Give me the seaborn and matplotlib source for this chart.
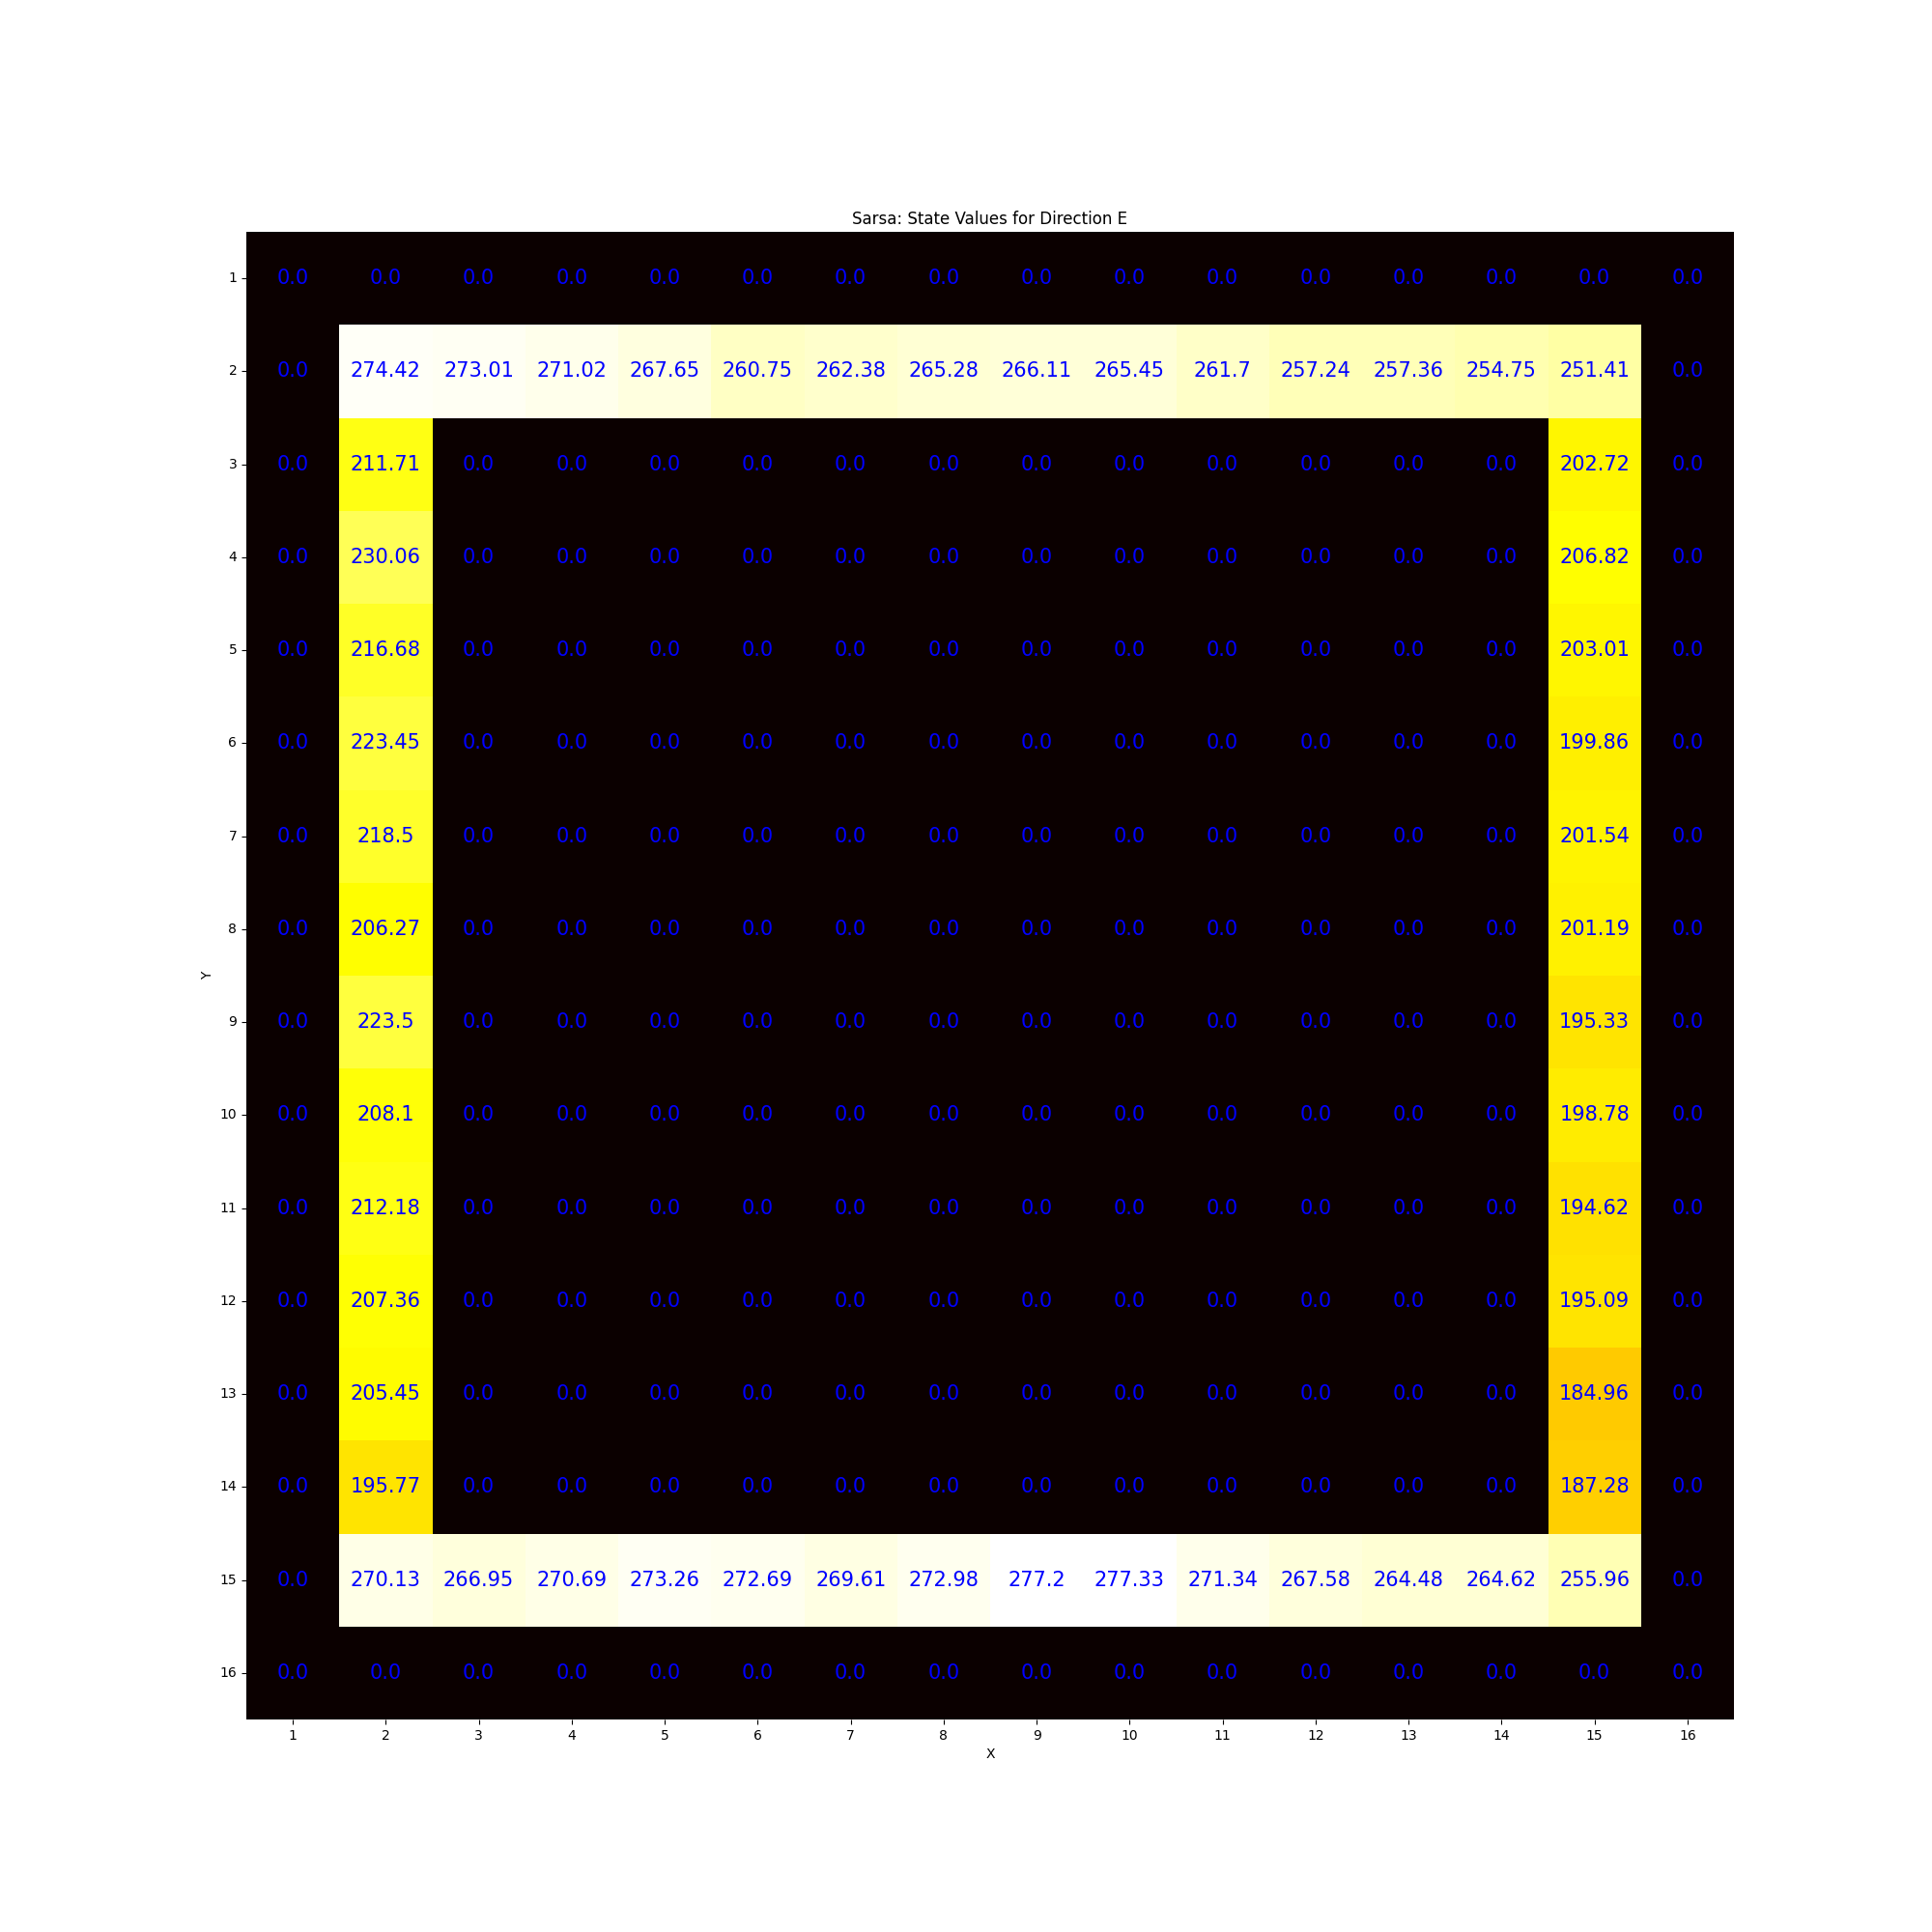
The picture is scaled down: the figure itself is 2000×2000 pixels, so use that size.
import numpy as np
import pandas as pd
import matplotlib
matplotlib.use("Agg")
import matplotlib.pyplot as plt
import seaborn as sns

x_labels = list(range(1, 17))
y_labels = list(range(1, 17))

# Row y=2, columns x=2..15
row2 = [274.42, 273.01, 271.02, 267.65, 260.75, 262.38, 265.28, 266.11, 265.45,
        261.7, 257.24, 257.36, 254.75, 251.41]
# Row y=15, columns x=2..15
row15 = [270.13, 266.95, 270.69, 273.26, 272.69, 269.61, 272.98, 277.2, 277.33,
         271.34, 267.58, 264.48, 264.62, 255.96]
# Column x=2, rows y=3..14
col2 = [211.71, 230.06, 216.68, 223.45, 218.5, 206.27, 223.5, 208.1, 212.18,
        207.36, 205.45, 195.77]
# Column x=15, rows y=3..14
col15 = [202.72, 206.82, 203.01, 199.86, 201.54, 201.19, 195.33, 198.78, 194.62,
         195.09, 184.96, 187.28]

grid = np.zeros((16, 16))
grid[1, 1:15] = row2
grid[14, 1:15] = row15
grid[2:14, 1] = col2
grid[2:14, 14] = col15

df = pd.DataFrame(grid, index=y_labels, columns=x_labels)
annot = np.vectorize(lambda v: str(round(float(v), 2)))(grid)

fig, ax = plt.subplots(figsize=(20, 20), dpi=100)
sns.heatmap(df, cmap="hot", annot=annot, fmt="", cbar=False, square=True,
            annot_kws={"color": "blue", "fontsize": 15}, ax=ax)
ax.set_title("Sarsa: State Values for Direction E", fontsize=12)
ax.set_xlabel("X", fontsize=10)
ax.set_ylabel("Y", fontsize=10)
ax.tick_params(axis="both", labelsize=10, length=3.5)
plt.setp(ax.get_yticklabels(), rotation=0)
plt.setp(ax.get_xticklabels(), rotation=0)
fig.savefig("out.png", dpi=100)
